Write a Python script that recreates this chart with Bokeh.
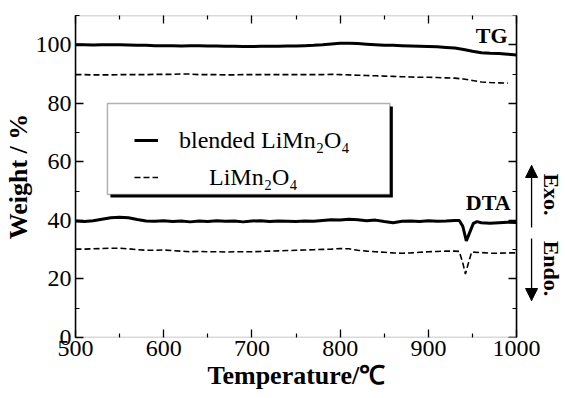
import math
from bokeh.plotting import figure
from bokeh.models import (Range1d, FixedTicker, LinearAxis, Legend, LegendItem, Title,
                          Label, Arrow, NormalHead, BoxAnnotation, CustomJSTickFormatter)
from bokeh.embed import file_html
from bokeh.resources import INLINE

# ---------------- data ----------------
temp_tg = [500, 510, 520, 530, 540, 550, 560, 570, 580, 590,
           600, 610, 620, 630, 640, 650, 660, 670, 680, 690,
           700, 710, 720, 730, 740, 750, 760, 770, 780, 790,
           800, 810, 820, 830, 840, 850, 860, 870, 880, 890,
           900, 910, 920, 930, 940, 950, 960, 970, 980, 990, 1000]
tg_blended = [100.0, 100.0, 99.9, 100.0, 100.0, 100.0, 99.9, 99.8, 99.8, 99.7,
              99.7, 99.7, 99.6, 99.7, 99.7, 99.6, 99.6, 99.5, 99.5, 99.4,
              99.4, 99.5, 99.5, 99.5, 99.6, 99.6, 99.7, 99.8, 100.0, 100.3,
              100.5, 100.5, 100.4, 100.2, 100.0, 99.8, 99.8, 99.7, 99.6, 99.5,
              99.4, 99.3, 99.1, 98.9, 98.4, 97.8, 97.3, 97.1, 97.0, 96.8, 96.5]
tg_pure = [89.8, 89.8, 89.7, 89.7, 89.7, 89.8, 89.8, 89.8, 89.8, 89.9,
           89.9, 89.9, 90.0, 90.0, 89.8, 89.8, 89.8, 89.7, 89.7, 89.8,
           89.8, 89.8, 89.8, 89.8, 89.8, 89.8, 89.8, 89.8, 89.8, 89.9,
           89.8, 89.7, 89.6, 89.5, 89.4, 89.3, 89.2, 89.1, 89.0, 88.9,
           88.9, 88.8, 88.7, 88.6, 88.3, 87.8, 87.3, 87.1, 87.0, 86.9, 86.8]

temp_dta_blended = [500, 510, 520, 530, 540, 550, 560, 570, 580, 590,
                    600, 610, 620, 630, 640, 650, 660, 670, 680, 690,
                    700, 710, 720, 730, 740, 750, 760, 770, 780, 790,
                    800, 810, 820, 830, 840, 850, 860, 870, 880, 890,
                    900, 910, 920, 930, 935, 939, 943, 947, 951, 955,
                    960, 970, 980, 990, 1000]
dta_blended = [39.8, 39.6, 39.9, 40.4, 40.9, 41.1, 40.9, 40.3, 39.8, 39.7,
               39.9, 39.6, 39.8, 39.5, 39.8, 39.6, 39.9, 39.7, 39.8, 39.5,
               39.8, 39.9, 39.6, 39.8, 39.7, 39.6, 39.8, 39.7, 40.0, 40.2,
               40.1, 40.4, 40.2, 39.9, 40.1, 39.6, 39.2, 39.7, 39.8, 39.6,
               39.9, 39.7, 39.8, 40.0, 40.0, 38.0, 33.0, 36.0, 39.0, 39.6,
               39.2, 39.0, 39.2, 39.4, 39.3]

temp_dta_pure = [500, 510, 520, 530, 540, 550, 560, 570, 580, 590,
                 600, 610, 620, 630, 640, 650, 660, 670, 680, 690,
                 700, 710, 720, 730, 740, 750, 760, 770, 780, 790,
                 800, 810, 820, 830, 840, 850, 860, 870, 880, 890,
                 900, 910, 920, 930, 935, 939, 942, 945, 949, 960,
                 970, 980, 990, 1000]
dta_pure = [30.2, 30.2, 30.3, 30.4, 30.5, 30.5, 30.3, 30.0, 29.8, 29.8,
            29.9, 29.7, 29.5, 29.3, 29.4, 29.3, 29.3, 29.2, 29.3, 29.3,
            29.3, 29.4, 29.5, 29.6, 29.7, 29.8, 29.9, 30.0, 30.1, 30.2,
            30.4, 30.3, 29.8, 29.5, 29.3, 29.1, 28.9, 28.8, 28.9, 29.1,
            29.3, 29.4, 29.5, 29.5, 29.4, 25.5, 21.7, 25.0, 29.2, 29.0,
            28.8, 28.8, 28.9, 28.9]

x_ticks = [500, 600, 700, 800, 900, 1000]
x_minor = [550, 650, 750, 850, 950]
y_ticks = [0, 20, 40, 60, 80, 100]
y_minor = [10, 30, 50, 70, 90, 110]

series_names = ["blended LiMn\u2082O\u2084", "LiMn\u2082O\u2084"]
x_title = "Temperature/\u2103"
y_title = "Weight / %"

SERIF = "Liberation Serif"

# geometry (canvas pixels): the box 500..1000 spans FL..FR; the drawing area
# extends to the right edge so the Exo./Endo. marks can live there.
FL, FR, FT, FB = 74, 516, 15, 337
W, H = 565, 398
XMIN, XMAX, YMIN, YMAX = 500, 1000, 0, 110
X_END = XMIN + (W - FL) * (XMAX - XMIN) / (FR - FL)

def px_to_x(px):
    return XMIN + (px - FL) * (XMAX - XMIN) / (FR - FL)

def py_to_y(py):
    return YMIN + (FB - py) * (YMAX - YMIN) / (FB - FT)

p = figure(width=W, height=H, output_backend="svg", toolbar_location=None,
           x_range=Range1d(XMIN, X_END), y_range=Range1d(YMIN, YMAX),
           min_border_left=FL, min_border_right=0, min_border_top=FT,
           min_border_bottom=H - FB, background_fill_color="white",
           border_fill_color="white")
p.xgrid.visible = False
p.ygrid.visible = False
p.outline_line_color = None

def style_axis(ax, ticks, minor, show_labels, show_line=True):
    ax.ticker = FixedTicker(ticks=ticks, minor_ticks=minor)
    ax.axis_line_color = "black" if show_line else None
    ax.axis_line_width = 1.5
    ax.major_tick_in = 8
    ax.major_tick_out = 0
    ax.minor_tick_in = 4
    ax.minor_tick_out = 0
    ax.major_tick_line_width = 1.3
    ax.minor_tick_line_width = 1.2
    ax.major_label_text_font = SERIF
    ax.major_label_text_font_size = "24px"
    ax.major_label_text_color = "black"
    ax.axis_label_text_font = SERIF
    ax.axis_label_text_font_size = "26px"
    ax.axis_label_text_font_style = "bold"
    ax.axis_label_text_color = "black"
    if not show_labels:
        ax.major_label_text_font_size = "0px"
        ax.major_label_standoff = 0
        ax.formatter = CustomJSTickFormatter(code="return ''")

style_axis(p.xaxis[0], x_ticks, x_minor, True, show_line=False)
style_axis(p.yaxis[0], y_ticks, y_minor, True)
p.yaxis[0].axis_label = y_title
p.xaxis[0].major_label_standoff = 3
p.yaxis[0].major_label_standoff = 4
p.yaxis[0].axis_label_standoff = 0

# x-axis title, placed under the 500..1000 box
p.add_layout(Title(text=x_title, align="left", offset=132, standoff=0,
                   vertical_align="bottom", text_font=SERIF, text_font_size="26px",
                   text_font_style="bold", text_color="black"), "below")

top_ax = LinearAxis()
style_axis(top_ax, x_ticks, x_minor, False, show_line=False)
p.add_layout(top_ax, "above")
right_ax = LinearAxis(fixed_location=XMAX)
style_axis(right_ax, y_ticks, y_minor, False)
p.add_layout(right_ax, "right")

# box outline around the 500..1000 region
p.add_layout(BoxAnnotation(left=XMIN, right=XMAX, bottom=YMIN, top=YMAX,
                           fill_alpha=0, line_color="black", line_width=1.5))

# ---------------- curves ----------------
r_tg_b = p.line(temp_tg, tg_blended, line_color="black", line_width=3)
r_tg_p = p.line(temp_tg[:-1], tg_pure[:-1], line_color="black", line_width=1.6,
                line_dash="6 3")
p.line(temp_dta_blended, dta_blended, line_color="black", line_width=3)
p.line(temp_dta_pure, dta_pure, line_color="black", line_width=1.6, line_dash="6 3")

# ---------------- legend: shadow, box, then the two entries ----------------
BOX_L, BOX_R, BOX_T, BOX_B, SH = 106, 389, 103, 194, 3
p.add_layout(BoxAnnotation(left=px_to_x(BOX_L + SH), right=px_to_x(BOX_R + SH),
                           top=py_to_y(BOX_T + SH), bottom=py_to_y(BOX_B + SH),
                           fill_color="black", fill_alpha=1.0, line_alpha=0))
p.add_layout(BoxAnnotation(left=px_to_x(BOX_L), right=px_to_x(BOX_R),
                           top=py_to_y(BOX_T), bottom=py_to_y(BOX_B),
                           fill_color="white", fill_alpha=1.0,
                           line_color="black", line_width=1.5))

ROW_H, GLYPH_L, GLYPH_W = 28, 133, 24
for item_idx, (renderer, row_center, standoff) in enumerate(
        ((r_tg_b, 140, 21), (r_tg_p, 177, 51))):
    leg = Legend(items=[LegendItem(label=series_names[item_idx], renderers=[renderer])],
                 location=(GLYPH_L - FL, FB - (row_center + ROW_H // 2)),
                 padding=0, spacing=0, glyph_width=GLYPH_W, glyph_height=ROW_H,
                 label_height=ROW_H, label_standoff=standoff,
                 label_text_font=SERIF, label_text_font_size="24px",
                 label_text_color="black", border_line_color=None,
                 background_fill_alpha=0)
    p.add_layout(leg, "center")

# ---------------- text labels and arrows ----------------
bold_kw = dict(text_font=SERIF, text_font_size="22px", text_font_style="bold",
               text_color="black")
p.add_layout(Label(x=px_to_x(507), y=py_to_y(35), text="TG", text_align="right",
                   text_baseline="middle", **bold_kw))
p.add_layout(Label(x=px_to_x(510), y=py_to_y(202), text="DTA", text_align="right",
                   text_baseline="middle", **bold_kw))
p.add_layout(Label(x=px_to_x(551), y=py_to_y(194), text="Exo.", angle=-math.pi / 2,
                   text_align="center", text_baseline="middle", **bold_kw))
p.add_layout(Label(x=px_to_x(551), y=py_to_y(268), text="Endo.", angle=-math.pi / 2,
                   text_align="center", text_baseline="middle", **bold_kw))

AX = px_to_x(531)
for tail, tip in ((227, 165), (238, 300)):
    p.add_layout(Arrow(x_start=AX, y_start=py_to_y(tail), x_end=AX, y_end=py_to_y(tip),
                       line_width=1.3, line_color="black", start=None, end=None))
    near = tip + (6 if tip < tail else -6)
    p.add_layout(Arrow(x_start=AX, y_start=py_to_y(near), x_end=AX, y_end=py_to_y(tip),
                       line_width=1.3, line_color="black",
                       end=NormalHead(size=12, fill_color="black", line_color="black")))

open("out.html", "w").write(file_html(p, INLINE))
